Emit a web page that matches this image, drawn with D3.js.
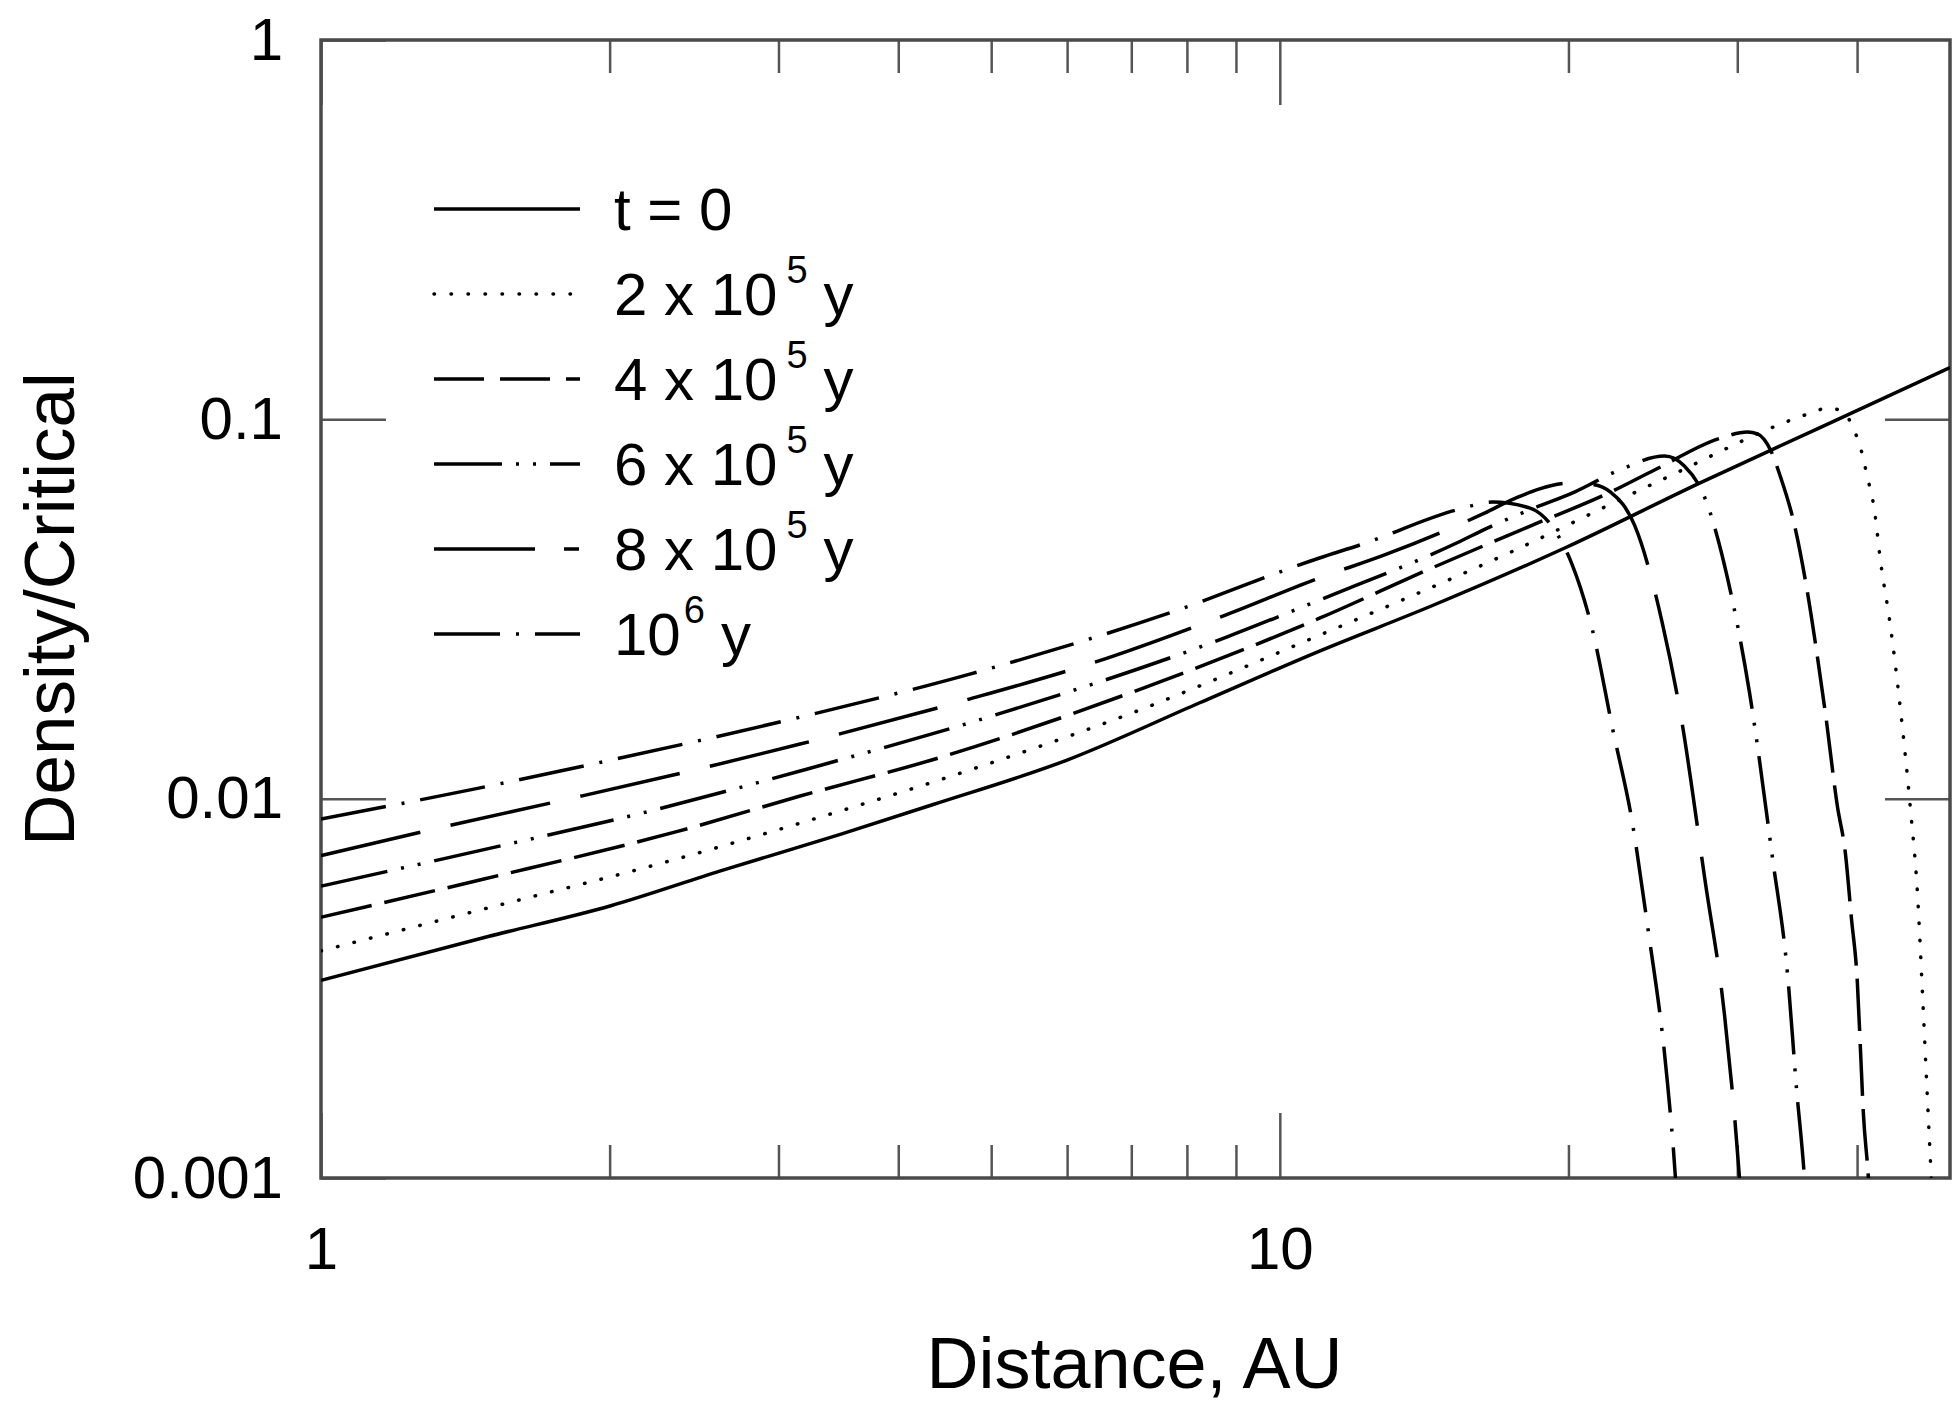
<!DOCTYPE html>
<html><head><meta charset="utf-8">
<script src="https://cdn.jsdelivr.net/npm/d3@7"></script>
<style>
body{margin:0;background:#fff}
svg{display:block}
text{font-family:"Liberation Sans",Arial,Helvetica,sans-serif;fill:#000}
</style>
</head><body>
<svg id="c" width="1952" height="1404"></svg>
<script>
// ---------- data ----------
const xTickValues = [1, 10];
const xTickLabels = ["1", "10"];
const xMinorTicks = [2, 3, 4, 5, 6, 7, 8, 9, 20, 30, 40];
const yTickValues = [0.001, 0.01, 0.1, 1];
const yTickLabels = ["0.001", "0.01", "0.1", "1"];
const yInnerTicks = [0.01, 0.1];

const xTitle = "Distance, AU";
const yTitle = "Density/Critical";

const legendBase = ["t = 0", "2 x 10", "4 x 10", "6 x 10", "8 x 10", "10"];
const legendExp  = ["", "5", "5", "5", "5", "6"];
const legendUnit = ["", "y", "y", "y", "y", "y"];

// [distance AU, density/critical]
const densT0 = [[1,0.00332],[1.494,0.00433],[2.006,0.00522],[2.61,0.00645],[3.48,0.00805],[4.35,0.00965],[5.99,0.01262],[8.25,0.0179],[11.0,0.0245],[14.43,0.0323],[19.9,0.046],[27.4,0.0679],[36.5,0.0948],[50,0.137]];
const dens2e5 = [[1,0.00397],[1.533,0.00524],[2.29,0.00681],[3.16,0.00862],[4.51,0.0114],[7.01,0.01682],[10.82,0.0265],[17.49,0.0449],[25.0,0.0692],[35.85,0.104],[37.25,0.1071],[38.8,0.1045],[39.56,0.0954],[40.23,0.0861],[41.0,0.0705],[41.7,0.0577],[42.3,0.0426],[43.35,0.02834],[44.4,0.01713],[45.47,0.00939],[46.24,0.00564],[46.8,0.00307],[47.35,0.00164],[47.8,0.001],[48.0,0.0008]];
const dens4e5 = [[1,0.00487],[1.479,0.00614],[2.36,0.00821],[3.16,0.01016],[4.40,0.01279],[7.02,0.0191],[11.0,0.0299],[14.26,0.0401],[18.04,0.0517],[22.13,0.0643],[24.59,0.0735],[28.81,0.0892],[30.74,0.0926],[31.49,0.0915],[32.49,0.083],[33.28,0.0705],[34.42,0.0526],[35.5,0.03505],[36.37,0.0236],[37.07,0.0168],[38.15,0.00956],[38.89,0.00719],[39.46,0.00484],[40.03,0.00326],[40.32,0.0022],[40.61,0.00148],[41.1,0.001],[41.3,0.0008]];
const dens6e5 = [[1,0.00588],[1.44,0.00723],[2.225,0.00933],[3.16,0.01183],[5.08,0.0167],[8.80,0.02667],[11.0,0.0334],[15.29,0.0472],[16.55,0.052],[18.21,0.0577],[20.29,0.0643],[22.61,0.0735],[25.19,0.080],[26.42,0.0753],[27.73,0.0624],[29.3,0.0382],[30.9,0.01898],[32.65,0.00697],[33.84,0.00347],[34.58,0.00173],[35.25,0.001],[35.45,0.0008]];
const dens8e5 = [[1,0.00708],[1.34,0.00842],[1.831,0.01004],[2.50,0.01204],[3.16,0.01393],[4.67,0.0181],[6.38,0.0228],[8.72,0.0303],[11.0,0.0382],[12.86,0.0439],[16.35,0.0566],[17.62,0.062],[20.1,0.0679],[21.09,0.0675],[22.13,0.0643],[23.44,0.0526],[25.06,0.029],[26.17,0.0168],[27.79,0.00599],[29.09,0.0027],[30.16,0.001],[30.35,0.0008]];
const dens1e6 = [[1,0.00884],[1.461,0.01066],[1.858,0.01212],[3.16,0.0164],[4.75,0.0213],[7.62,0.0307],[11.0,0.0431],[12.2,0.0469],[15.4,0.058],[16.67,0.0605],[18.21,0.0584],[19.34,0.0511],[20.15,0.0418],[21.19,0.0278],[22.23,0.01535],[23.33,0.00857],[24.17,0.00467],[25.37,0.00178],[25.86,0.001],[26.0,0.0008]];

const seriesData = [densT0, dens2e5, dens4e5, dens6e5, dens8e5, dens1e6];

// ---------- styles ----------
const plotDash   = [null, "0.5,16.5", "52,13", "68,14,3,14,3,14", "102,31", "66,16,3,16"];
const legendDash = [null, "0.5,16.5", "50,16", "68,14,3,14,3,14", "101,29,15,30", "66,16,3,16"];
const lineCap    = ["butt", "round", "butt", "butt", "butt", "butt"];

// ---------- layout ----------
const L = 321, R = 1950, T = 40, B = 1178;
const FONT = '"Liberation Sans", Arial, Helvetica, sans-serif';

const svg = d3.select("#c");
const X = d3.scaleLog().domain([1, 50]).range([L, R]);
const Y = d3.scaleLog().domain([0.001, 1]).range([B, T]);

function styleAxis(g) {
  g.attr("font-family", FONT).attr("font-size", 60);
  g.select(".domain").remove();
  g.selectAll(".tick line").attr("stroke", "#555").attr("stroke-width", 2.5);
  g.selectAll(".tick text").attr("fill", "#000");
}

// bottom axis
svg.append("g").attr("transform", `translate(0,${B})`)
  .call(d3.axisBottom(X).tickValues(xMinorTicks).tickSize(-33).tickFormat(() => ""))
  .call(styleAxis);
svg.append("g").attr("transform", `translate(0,${B})`)
  .call(d3.axisBottom(X).tickValues(xTickValues).tickSize(-65).tickPadding(48)
        .tickFormat((d, i) => xTickLabels[i]))
  .call(styleAxis);
// top axis
svg.append("g").attr("transform", `translate(0,${T})`)
  .call(d3.axisTop(X).tickValues(xMinorTicks).tickSize(-33).tickFormat(() => ""))
  .call(styleAxis);
svg.append("g").attr("transform", `translate(0,${T})`)
  .call(d3.axisTop(X).tickValues(xTickValues).tickSize(-65).tickFormat(() => ""))
  .call(styleAxis);
// left axis
svg.append("g").attr("transform", `translate(${L},0)`)
  .call(d3.axisLeft(Y).tickValues(yTickValues).tickSize(-65).tickPadding(38)
        .tickFormat((d, i) => yTickLabels[i]))
  .call(styleAxis);
// right axis
svg.append("g").attr("transform", `translate(${R},0)`)
  .call(d3.axisRight(Y).tickValues(yInnerTicks).tickSize(-65).tickFormat(() => ""))
  .call(styleAxis);

// frame
svg.append("rect").attr("x", L).attr("y", T).attr("width", R - L).attr("height", B - T)
  .attr("fill", "none").attr("stroke", "#4a4a4a").attr("stroke-width", 3.5);

// curves
svg.append("clipPath").attr("id", "clip").append("rect")
  .attr("x", L).attr("y", T).attr("width", R - L).attr("height", B - T);

const line = d3.line().x(d => X(d[0])).y(d => Y(d[1])).curve(d3.curveMonotoneX);
const gC = svg.append("g").attr("clip-path", "url(#clip)");
seriesData.forEach((data, i) => {
  gC.append("path").datum(data).attr("d", line)
    .attr("fill", "none").attr("stroke", "#000").attr("stroke-width", 3.5)
    .attr("stroke-linecap", lineCap[i])
    .attr("stroke-dasharray", plotDash[i]);
});

// legend
const lgX1 = 434, lgX2 = 580, lgTx = 614, lgY0 = 209, lgDy = 85, lgFs = 60, supFs = 38;
legendBase.forEach((lab, i) => {
  const cy = lgY0 + i * lgDy;
  svg.append("line").attr("x1", lgX1).attr("x2", lgX2).attr("y1", cy).attr("y2", cy)
    .attr("stroke", "#000").attr("stroke-width", 3.5)
    .attr("stroke-linecap", lineCap[i])
    .attr("stroke-dasharray", legendDash[i]);
  const base = cy + 0.358 * lgFs;
  const t = svg.append("text").attr("x", lgTx).attr("y", base).attr("font-size", lgFs).text(lab);
  if (legendExp[i]) {
    const w = t.node().getComputedTextLength();
    const gap = (lab === "10") ? 3 : 9;
    const sx = lgTx + w + gap;
    const s = svg.append("text").attr("x", sx).attr("y", base - 32).attr("font-size", supFs).text(legendExp[i]);
    const sw = s.node().getComputedTextLength();
    svg.append("text").attr("x", sx + sw + 16).attr("y", base).attr("font-size", lgFs).text(legendUnit[i]);
  }
});

// titles
svg.append("text").attr("x", (L + R) / 2 - 1).attr("y", 1388).attr("text-anchor", "middle")
  .attr("font-size", 72).text(xTitle);
svg.append("text").attr("transform", `translate(74,${(T + B) / 2}) rotate(-90)`)
  .attr("text-anchor", "middle").attr("font-size", 71).text(yTitle);
</script>
</body></html>
